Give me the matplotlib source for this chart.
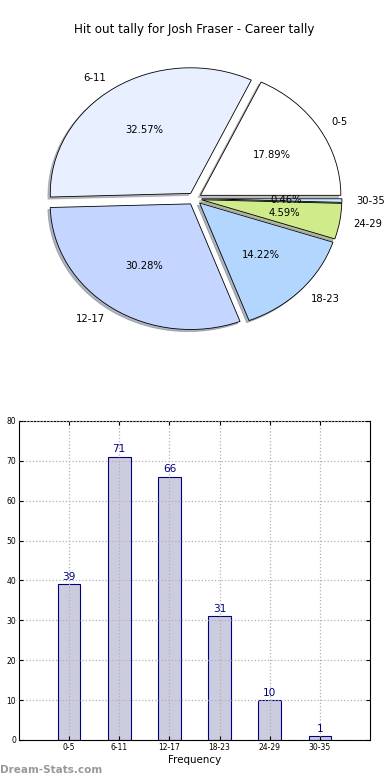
import matplotlib
matplotlib.use("Agg")
import matplotlib.pyplot as plt
import numpy as np

categories = ["0-5", "6-11", "12-17", "18-23", "24-29", "30-35"]
counts = [39, 71, 66, 31, 10, 1]
pie_colors = ["#ffffff", "#e8f0ff", "#c4d6ff", "#b3d6ff", "#d0ec8a", "#c8ecff"]
title = "Hit out tally for Josh Fraser - Career tally"

fig = plt.figure(figsize=(3.9, 7.8), dpi=100)

ax1 = fig.add_axes([0.0487, 0.5440, 0.9, 0.4026])
wedges, texts, autotexts = ax1.pie(
    counts, labels=categories, colors=pie_colors, explode=[0.05] * len(counts),
    autopct="%1.2f%%", shadow={"ox": -0.012, "oy": -0.012, "shade": 0.5},
    startangle=0, counterclock=True,
    labeldistance=1.1, pctdistance=0.6,
    wedgeprops=dict(edgecolor="black", linewidth=0.6),
    textprops=dict(fontsize=7.2))
ax1.set_aspect("auto")
ax1.set_xlim(-1.25, 1.25)
ax1.set_ylim(-1.25, 1.25)
ax1.set_title(title, fontsize=8.6, pad=6)

ax2 = fig.add_axes([0.0487, 0.0513, 0.9, 0.409])
x = np.arange(len(categories))
bars = ax2.bar(x, counts, width=0.45, color="#ccccdf", edgecolor="#000080",
               linewidth=0.8, zorder=1)
for xi, v in zip(x, counts):
    ax2.text(xi, v + 0.6, str(v), ha="center", va="bottom", color="#000080",
             fontsize=7.6)
ax2.set_xlim(-1, 6)
ax2.set_ylim(0, 80)
ax2.set_xticks(x)
ax2.set_xticklabels(categories)
ax2.set_yticks(range(0, 81, 10))
ax2.tick_params(labelsize=5.5, direction="in", top=True, right=True, length=3,
                pad=2)
ax2.set_axisbelow(False)
ax2.grid(True, linestyle=":", color="#b0b0b0", linewidth=0.9, zorder=3)
ax2.set_xlabel("Frequency", fontsize=7.4, labelpad=2)

fig.text(0.0, 0.006, "Dream-Stats.com", color="#999999", fontsize=7.5,
         fontweight="bold", ha="left", va="bottom")

fig.savefig("out.png", dpi=100)
